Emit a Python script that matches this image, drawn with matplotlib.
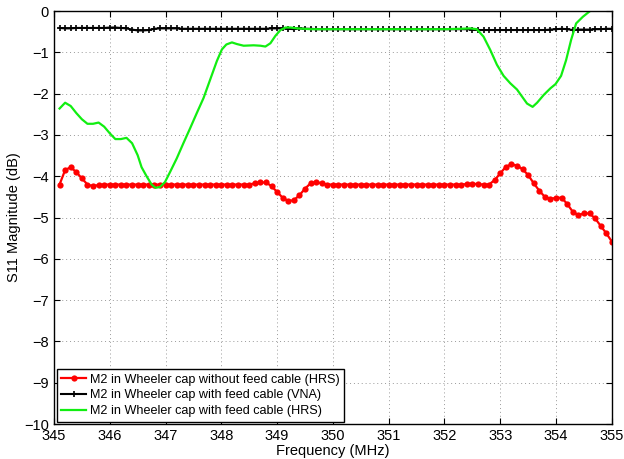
import numpy as np
import matplotlib
matplotlib.use("Agg")
import matplotlib.pyplot as plt

plt.rcParams['font.family'] = ['Liberation Sans', 'DejaVu Sans']

freq_red = [round(345.1 + 0.1 * i, 1) for i in range(100)]
s11_red = [
    -4.20, -3.85, -3.78, -3.90, -4.05, -4.20, -4.24, -4.21, -4.20, -4.20,  # 345.1-346.0
    -4.20, -4.20, -4.20, -4.20, -4.20, -4.20, -4.20, -4.20, -4.20, -4.20,  # 346.1-347.0
    -4.20, -4.20, -4.20, -4.20, -4.20, -4.20, -4.20, -4.20, -4.20, -4.20,  # 347.1-348.0
    -4.20, -4.20, -4.20, -4.20, -4.20, -4.17, -4.15, -4.15, -4.24, -4.38,  # 348.1-349.0
    -4.52, -4.60, -4.58, -4.46, -4.30, -4.17, -4.14, -4.17, -4.20, -4.20,  # 349.1-350.0
    -4.20, -4.20, -4.20, -4.20, -4.20, -4.20, -4.20, -4.20, -4.20, -4.20,  # 350.1-351.0
    -4.20, -4.20, -4.20, -4.20, -4.20, -4.20, -4.20, -4.20, -4.20, -4.20,  # 351.1-352.0
    -4.20, -4.20, -4.20, -4.19, -4.18, -4.19, -4.20, -4.20, -4.09, -3.93,  # 352.1-353.0
    -3.77, -3.71, -3.74, -3.83, -3.97, -4.17, -4.35, -4.50, -4.55, -4.52,  # 353.1-354.0
    -4.52, -4.67, -4.86, -4.94, -4.90, -4.90, -5.02, -5.20, -5.38, -5.58,  # 354.1-355.0
]

freq_vna = [round(345.1 + 0.1 * i, 1) for i in range(100)]
s11_vna = [
    -0.41, -0.42, -0.42, -0.41, -0.41, -0.41, -0.41, -0.41, -0.41, -0.40,  # 345.1-346.0
    -0.40, -0.41, -0.42, -0.45, -0.47, -0.47, -0.46, -0.43, -0.42, -0.42,  # 346.1-347.0
    -0.42, -0.42, -0.43, -0.43, -0.43, -0.43, -0.43, -0.43, -0.43, -0.43,  # 347.1-348.0
    -0.43, -0.43, -0.43, -0.43, -0.43, -0.43, -0.43, -0.43, -0.42, -0.42,  # 348.1-349.0
    -0.42, -0.43, -0.44, -0.42, -0.43, -0.43, -0.44, -0.44, -0.44, -0.44,  # 349.1-350.0
    -0.44, -0.44, -0.44, -0.44, -0.44, -0.44, -0.44, -0.44, -0.44, -0.44,  # 350.1-351.0
    -0.44, -0.44, -0.44, -0.44, -0.44, -0.44, -0.44, -0.44, -0.44, -0.44,  # 351.1-352.0
    -0.44, -0.44, -0.44, -0.44, -0.45, -0.46, -0.46, -0.46, -0.46, -0.46,  # 352.1-353.0
    -0.46, -0.46, -0.46, -0.46, -0.46, -0.46, -0.46, -0.46, -0.45, -0.44,  # 353.1-354.0
    -0.43, -0.44, -0.46, -0.45, -0.45, -0.45, -0.44, -0.44, -0.43, -0.43,  # 354.1-355.0
]

freq_hrs = [345.1, 345.2, 345.3, 345.4, 345.5, 345.6, 345.7, 345.8, 345.9, 346.0,
            346.1, 346.2, 346.3, 346.4, 346.5, 346.57, 346.66, 346.75, 346.82, 346.9,
            346.99, 347.08, 347.2, 347.32, 347.44, 347.56, 347.68, 347.8, 347.92, 348.01,
            348.09, 348.19, 348.28, 348.4, 348.58, 348.7, 348.79, 348.88, 348.97, 349.06,
            349.15, 349.24, 349.36, 349.6, 350.0, 350.5, 351.0, 351.5, 352.0, 352.3,
            352.46, 352.58, 352.7, 352.82, 352.94, 353.06, 353.18, 353.3, 353.39, 353.48,
            353.58, 353.66, 353.78, 353.9, 353.99, 354.09, 354.18, 354.27, 354.36, 354.48,
            354.6, 354.7]
s11_hrs = [-2.36, -2.22, -2.30, -2.47, -2.62, -2.73, -2.73, -2.70, -2.80, -2.96,
           -3.10, -3.10, -3.07, -3.20, -3.49, -3.78, -4.00, -4.20, -4.28, -4.26,
           -4.14, -3.90, -3.57, -3.20, -2.84, -2.47, -2.11, -1.66, -1.21, -0.93,
           -0.81, -0.76, -0.80, -0.84, -0.83, -0.84, -0.86, -0.78, -0.60, -0.46,
           -0.40, -0.40, -0.42, -0.44, -0.44, -0.44, -0.44, -0.44, -0.44, -0.43,
           -0.42, -0.44, -0.62, -0.94, -1.30, -1.57, -1.75, -1.90, -2.07, -2.24,
           -2.32, -2.22, -2.03, -1.87, -1.77, -1.57, -1.19, -0.70, -0.30, -0.14,
           -0.01, 0.08]

labels = ['M2 in Wheeler cap without feed cable (HRS)',
          'M2 in Wheeler cap with feed cable (VNA)',
          'M2 in Wheeler cap with feed cable (HRS)']
xticks = list(range(345, 356))
yticks = list(range(-10, 1))

fig = plt.figure(figsize=(6.24, 4.59), dpi=100)
ax = fig.add_axes([0.0865, 0.076, 0.894, 0.9])

ax.plot(freq_red, s11_red, color='#ff0000', lw=1.6, marker='o', ms=4.5,
        markeredgewidth=0, label=labels[0])
ax.plot(freq_vna, s11_vna, color='black', lw=1.5, marker='+', ms=5,
        markeredgewidth=1.2, label=labels[1])
ax.plot(freq_hrs, s11_hrs, color='#11ee11', lw=1.6, label=labels[2])

ax.set_xlim(345, 355)
ax.set_ylim(-10, 0)
ax.set_xticks(xticks)
ax.set_yticks(yticks)
ax.tick_params(direction='in', top=True, right=True, labelsize=10.5, length=4, width=0.8)
ax.grid(True, linestyle=(0, (1, 3)), color='#999999', lw=0.7)
for s in ax.spines.values():
    s.set_linewidth(1.0)
ax.set_xlabel('Frequency (MHz)', fontsize=10.5, labelpad=1)
ax.set_ylabel('S11 Magnitude (dB)', fontsize=10.5, labelpad=2)

leg = ax.legend(loc='lower left', fontsize=9.1, frameon=True, fancybox=False,
                framealpha=1, edgecolor='black', borderaxespad=0.2,
                handlelength=2.0, handletextpad=0.3, labelspacing=0.3,
                borderpad=0.35)
leg.get_frame().set_linewidth(1.0)

fig.savefig('out.png', dpi=100)
